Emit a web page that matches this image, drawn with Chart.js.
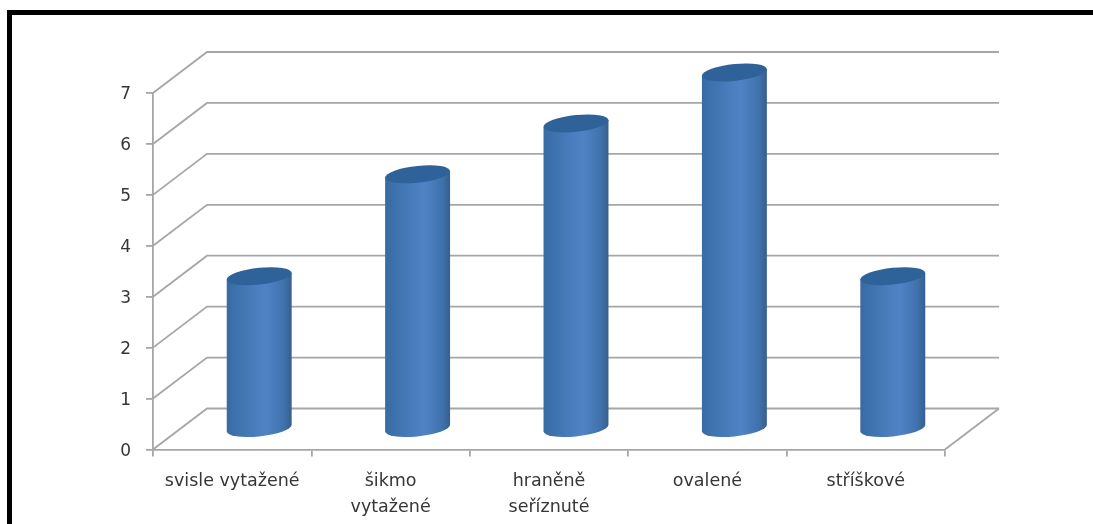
<!DOCTYPE html>
<html>
<head>
<meta charset="utf-8">
<style>
  html, body { margin: 0; padding: 0; background: #fff; overflow: hidden; }
  #wrap { position: relative; width: 1093px; height: 524px; }
  #frame { position: absolute; left: 7px; top: 10px; right: 0; bottom: 0; border-top: 5px solid #000; border-left: 5px solid #000; }
  canvas { position: absolute; left: 0; top: 0; filter: blur(0.45px); }
</style>
<script src="https://cdn.jsdelivr.net/npm/chart.js@4"></script>
</head>
<body>
<div id="wrap">
  <div id="frame"></div>
  <canvas id="chart" width="1093" height="524"></canvas>
</div>
<script>
const categories = [
  "svisle vytažené",
  ["šikmo", "vytažené"],
  ["hraněně", "seříznuté"],
  "ovalené",
  "stříškové",
];
const values = [3, 5, 6, 7, 3];
const yMax = 7;

const depthX = 54;
const depthY = 41;
const lineColor = "#a6a6a6";
const textColor = "#363636";

// back wall and floor of the fake 3D box
const wallPlugin = {
  id: "wall",
  beforeDatasetsDraw(chart) {
    const { ctx, scales, chartArea } = chart;
    ctx.save();
    ctx.strokeStyle = lineColor;
    ctx.lineWidth = 1.8;
    scales.y.ticks.forEach((t) => {
      const y = scales.y.getPixelForValue(t.value);
      ctx.beginPath();
      ctx.moveTo(chartArea.left, y);
      ctx.lineTo(chartArea.left + depthX, y - depthY);
      ctx.lineTo(chartArea.right + depthX, y - depthY);
      ctx.stroke();
    });
    // floor right edge
    ctx.beginPath();
    ctx.moveTo(chartArea.right, chartArea.bottom);
    ctx.lineTo(chartArea.right + depthX, chartArea.bottom - depthY);
    ctx.stroke();
    ctx.restore();
  },
};

// cylinders drawn from the bar elements, skewed so the sides stay vertical
const cylinderPlugin = {
  id: "cylinder",
  afterDatasetsDraw(chart) {
    const { ctx } = chart;
    const slope = -0.1;
    const ry = 8.4;
    chart.getDatasetMeta(0).data.forEach((bar) => {
      const cx = bar.x + depthX / 2;
      const top = bar.y - depthY / 2;
      const bottom = bar.base - depthY / 2;
      const rx = bar.width / 2;

      ctx.save();
      ctx.transform(1, slope, 0, 1, cx, 0);

      const grad = ctx.createLinearGradient(-rx, 0, rx, 0);
      grad.addColorStop(0, "#386ba4");
      grad.addColorStop(0.2, "#4074b0");
      grad.addColorStop(0.6, "#4f83c5");
      grad.addColorStop(0.87, "#4073ad");
      grad.addColorStop(1, "#375f8e");
      ctx.fillStyle = grad;
      ctx.beginPath();
      ctx.moveTo(-rx, top);
      ctx.lineTo(-rx, bottom);
      ctx.ellipse(0, bottom, rx, ry, 0, Math.PI, 0, true);
      ctx.lineTo(rx, top);
      ctx.closePath();
      ctx.fill();

      ctx.fillStyle = "#2e6299";
      ctx.beginPath();
      ctx.ellipse(0, top, rx, ry, 0, 0, Math.PI * 2);
      ctx.fill();
      ctx.restore();
    });
  },
};

new Chart(document.getElementById("chart"), {
  type: "bar",
  data: {
    labels: categories,
    datasets: [
      {
        data: values,
        backgroundColor: "transparent",
        categoryPercentage: 1,
        barPercentage: 0.41,
      },
    ],
  },
  plugins: [wallPlugin, cylinderPlugin],
  options: {
    responsive: false,
    animation: false,
    layout: { padding: { left: 0, top: 93, right: 148, bottom: 0 } },
    plugins: {
      legend: { display: false },
      tooltip: { enabled: false },
    },
    scales: {
      x: {
        afterFit: (s) => { s.height = 74.5; },
        grid: { drawOnChartArea: false, color: lineColor, lineWidth: 1.8, tickLength: 7 },
        border: { color: lineColor, width: 1.8 },
        ticks: {
          color: textColor,
          padding: 11,
          maxRotation: 0,
          autoSkip: false,
          font: { family: "'DejaVu Sans'", size: 17.5, lineHeight: 1.54 },
        },
      },
      y: {
        min: 0,
        max: yMax,
        afterFit: (s) => { s.width = 153; },
        grid: { drawOnChartArea: false, color: lineColor, lineWidth: 1.8, tickLength: 7 },
        border: { color: lineColor, width: 1.8 },
        ticks: {
          color: textColor,
          stepSize: 1,
          padding: 15,
          labelOffset: 2,
          font: { family: "'DejaVu Sans'", size: 17 },
        },
      },
    },
  },
});
</script>
</body>
</html>
